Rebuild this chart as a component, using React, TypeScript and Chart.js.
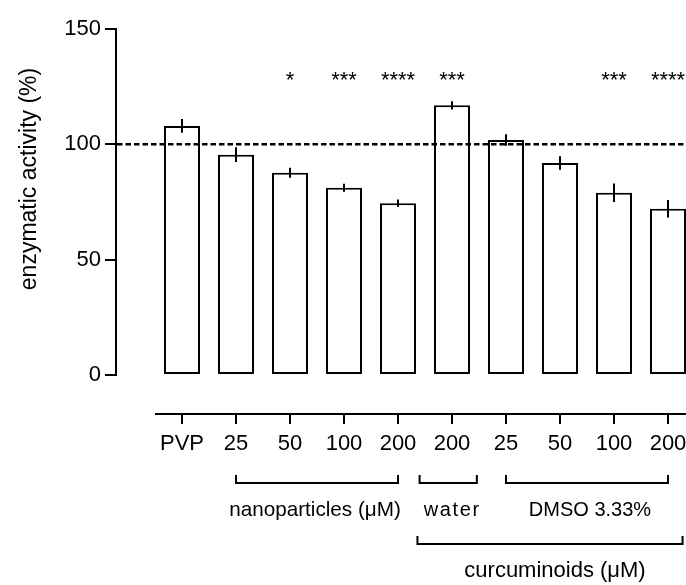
import { useEffect, useRef } from "react";
import { Chart, registerables } from "chart.js";

Chart.register(...registerables);

const categories = ["PVP", "25", "50", "100", "200", "200", "25", "50", "100", "200"];
const meanActivity = [108.0, 95.5, 87.7, 81.2, 74.5, 116.9, 101.9, 91.9, 79.0, 72.1];
const errorActivity = [3.0, 3.2, 2.2, 1.7, 1.6, 1.8, 2.5, 2.9, 4.0, 3.8];
const significance = ["", "", "*", "***", "****", "***", "", "", "***", "****"];
const yTicks = [0, 50, 100, 150];
const referenceLevel = 100;
const starLevel = 125;
const yTitle = "enzymatic activity (%)";
const groupBrackets = [
  { label: "nanoparticles (μM)", from: 1, to: 4, row: 0 },
  { label: "water", from: 4.4, to: 5.46, row: 0 },
  { label: "DMSO 3.33%", from: 6, to: 9, row: 0 },
  { label: "curcuminoids (μM)", from: 4.36, to: 9.27, row: 1 },
];
// label look per bracket: font size, letter spacing, horizontal shift (px)
const bracketLabelStyle = [
  { size: 20.7, spacing: 0, dx: -2 },
  { size: 20, spacing: 1.6, dx: 4 },
  { size: 20, spacing: 0, dx: 3 },
  { size: 22, spacing: 0, dx: 5 },
];

const FONT = "'Liberation Sans', Arial, sans-serif";

const overlay = {
  id: "overlay",
  afterDatasetsDraw(chart: any) {
    const { ctx, chartArea, scales } = chart;
    const xs = scales.x;
    const ys = scales.y;
    const meta = chart.getDatasetMeta(0);
    ctx.save();
    ctx.strokeStyle = "#000";
    ctx.fillStyle = "#000";
    ctx.lineCap = "butt";

    // y axis line (0..150)
    ctx.lineWidth = 2;
    ctx.beginPath();
    ctx.moveTo(chartArea.left, ys.getPixelForValue(yTicks[yTicks.length - 1]) - 1);
    ctx.lineTo(chartArea.left, ys.getPixelForValue(0) + 1);
    ctx.stroke();

    // x axis line (offset)
    ctx.beginPath();
    ctx.moveTo(xs.getPixelForValue(-0.5), chartArea.bottom);
    ctx.lineTo(chartArea.right, chartArea.bottom);
    ctx.stroke();

    // error bars
    ctx.lineWidth = 2;
    meta.data.forEach((bar: any, i: number) => {
      const v = meanActivity[i];
      const e = errorActivity[i];
      ctx.beginPath();
      ctx.moveTo(bar.x, ys.getPixelForValue(v + e));
      ctx.lineTo(bar.x, ys.getPixelForValue(v - e));
      ctx.stroke();
    });

    // reference dashed line
    ctx.save();
    ctx.lineWidth = 2.5;
    ctx.setLineDash([5.5, 3]);
    const yr = ys.getPixelForValue(referenceLevel);
    ctx.beginPath();
    ctx.moveTo(chartArea.left + 1, yr);
    ctx.lineTo(chartArea.right, yr);
    ctx.stroke();
    ctx.restore();

    // significance stars
    ctx.font = `22px ${FONT}`;
    ctx.textAlign = "center";
    ctx.textBaseline = "alphabetic";
    meta.data.forEach((bar: any, i: number) => {
      if (significance[i]) ctx.fillText(significance[i], bar.x, ys.getPixelForValue(starLevel));
    });

    // y title
    ctx.save();
    ctx.translate(30, 179);
    ctx.rotate(-Math.PI / 2);
    ctx.font = `23px ${FONT}`;
    ctx.textAlign = "center";
    ctx.textBaseline = "middle";
    ctx.fillText(yTitle, 0, 0);
    ctx.restore();

    // group brackets
    ctx.lineWidth = 2;
    groupBrackets.forEach((g, i) => {
      const st = bracketLabelStyle[i];
      const x1 = xs.getPixelForValue(g.from);
      const x2 = xs.getPixelForValue(g.to);
      const yLine = chartArea.bottom + (g.row === 0 ? 69 : 130);
      const yTop = yLine - 8;
      ctx.beginPath();
      ctx.moveTo(x1, yTop);
      ctx.lineTo(x1, yLine);
      ctx.lineTo(x2, yLine);
      ctx.lineTo(x2, yTop);
      ctx.stroke();
      ctx.save();
      ctx.font = `${st.size}px ${FONT}`;
      (ctx as any).letterSpacing = `${st.spacing}px`;
      ctx.textAlign = "center";
      ctx.textBaseline = "alphabetic";
      const yText = chartArea.bottom + (g.row === 0 ? 102 : 163);
      ctx.fillText(g.label, (x1 + x2) / 2 + st.dx, yText);
      ctx.restore();
    });

    ctx.restore();
  },
};

export default function App() {
  const ref = useRef<HTMLCanvasElement | null>(null);

  useEffect(() => {
    if (!ref.current) return;
    Chart.defaults.font.family = FONT;
    const chart = new Chart(ref.current, {
      type: "bar",
      data: {
        datasets: [
          {
            data: meanActivity.map((v, i) => ({ x: i, y: v })),
            backgroundColor: "#ffffff",
            borderColor: "#000000",
            borderWidth: 2,
            borderSkipped: false,
            barPercentage: 0.667,
            categoryPercentage: 1,
          },
        ],
      },
      options: {
        responsive: false,
        animation: false,
        layout: { padding: { top: 29, right: 0, bottom: 0, left: 0 } },
        plugins: { legend: { display: false }, tooltip: { enabled: false } },
        scales: {
          x: {
            type: "linear",
            offset: false,
            min: -66 / 54,
            max: 9 + 18 / 54,
            afterBuildTicks: (s: any) => {
              s.ticks = categories.map((_, i) => ({ value: i }));
            },
            afterFit: (s: any) => {
              s.height = 171;
              s.paddingLeft = 0;
              s.paddingRight = 0;
            },
            grid: {
              display: true,
              offset: false,
              drawOnChartArea: false,
              drawTicks: true,
              tickLength: 10,
              color: "#000",
              lineWidth: 2,
            },
            border: { display: false },
            ticks: {
              autoSkip: false,
              maxRotation: 0,
              minRotation: 0,
              padding: 7,
              color: "#000",
              font: { size: 22, family: FONT },
              callback: (v: any) => categories[v as number] ?? "",
            },
          },
          y: {
            type: "linear",
            min: -16.9,
            max: 150,
            afterBuildTicks: (s: any) => {
              s.ticks = yTicks.map((v) => ({ value: v }));
            },
            afterFit: (s: any) => {
              s.width = 116;
            },
            grid: {
              display: true,
              drawOnChartArea: false,
              drawTicks: true,
              tickLength: 11,
              color: "#000",
              lineWidth: 2,
            },
            border: { display: false },
            ticks: {
              padding: 4,
              color: "#000",
              font: { size: 22, family: FONT },
            },
          },
        },
      },
      plugins: [overlay],
    });
    return () => chart.destroy();
  }, []);

  return (
    <div style={{ position: "absolute", left: 0, top: 0, width: 686, height: 585, overflow: "hidden", background: "#fff" }}>
      <canvas ref={ref} width={686} height={585} style={{ display: "block" }} />
    </div>
  );
}
